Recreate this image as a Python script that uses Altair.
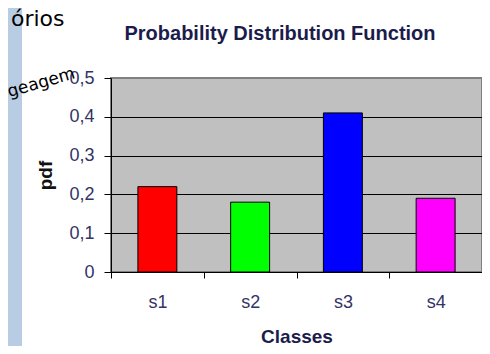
import altair as alt
import pandas as pd

classes = ["s1", "s2", "s3", "s4"]
pdf_values = [0.22, 0.18, 0.41, 0.19]
bar_colors = ["#FF0000", "#00FF00", "#0000FF", "#FF00FF"]
y_ticks = [0, 0.1, 0.2, 0.3, 0.4, 0.5]
y_tick_labels = ["0", "0,1", "0,2", "0,3", "0,4", "0,5"]
chart_title = ["Probability Distribution Function"]
slide_texts = ["órios", "geagem"]

df = pd.DataFrame({"Classes": classes, "pdf": pdf_values, "color": bar_colors})

label_expr = "".join(
    f"abs(datum.value - {v}) < 1e-6 ? '{l}' : " for v, l in zip(y_ticks, y_tick_labels)
) + "''"

navy = "#1c1c4c"
label_col = "#333366"

bars = alt.Chart(df).mark_bar(
    stroke="black", strokeWidth=1, width=alt.RelativeBandSize(0.42)
).encode(
    x=alt.X(
        "Classes:N",
        sort=classes,
        scale=alt.Scale(paddingInner=0, paddingOuter=0),
        axis=alt.Axis(
            labelAngle=0, tickBand="extent", tickSize=6, tickColor="black",
            domainColor="black", labelFontSize=18, labelFont="Liberation Sans",
            labelColor=label_col, labelBaseline="middle", labelPadding=24,
            title="Classes", titleFontSize=19, titleFontWeight="bold",
            titleFont="Liberation Sans", titleColor=navy, titleY=64,
            titleBaseline="middle", grid=False,
        ),
    ),
    y=alt.Y(
        "pdf:Q",
        scale=alt.Scale(domain=[0, 0.5]),
        axis=alt.Axis(
            values=y_ticks, labelExpr=label_expr, tickSize=7, tickColor="black",
            domainColor="black", labelPadding=10, labelFontSize=18,
            labelFont="Liberation Sans", labelColor=label_col,
            gridColor={"condition": {"test": "datum.value >= 0.5", "value": "#808080"}, "value": "black"},
            gridWidth=1,
            title="pdf", titleFontSize=19, titleFontWeight="bold",
            titleFont="Liberation Sans", titleColor="#111111",
            titleX=-66, titleY=97, titleBaseline="middle", titleAlign="center",
        ),
    ),
    color=alt.Color("color:N", scale=None),
)

one = pd.DataFrame({"k": [0]})

strip = alt.Chart(one).mark_rect(color="#b8cce4").encode(
    x=alt.value(-103), x2=alt.value(-89), y=alt.value(-70), y2=alt.value(270)
)

title = alt.Chart(pd.DataFrame({"t": chart_title})).mark_text(
    font="Liberation Sans", fontSize=20, fontWeight="bold", align="center",
    baseline="alphabetic", color=navy
).encode(text="t:N", x=alt.value(169), y=alt.value(-38))

t1 = alt.Chart(pd.DataFrame({"t": [slide_texts[0]]})).mark_text(
    font="DejaVu Sans", fontSize=22, align="left", baseline="alphabetic", color="black"
).encode(text="t:N", x=alt.value(-100), y=alt.value(-52))

t2 = alt.Chart(pd.DataFrame({"t": [slide_texts[1]]})).mark_text(
    font="DejaVu Sans", fontSize=17, align="right", baseline="alphabetic", color="black", angle=344
).encode(text="t:N", x=alt.value(-35), y=alt.value(0))

chart = alt.layer(strip, bars, title, t1, t2).properties(
    width=371,
    height=194,
    autosize=alt.AutoSizeParams(type="none"),
    padding={"left": 103, "top": 70, "right": 0, "bottom": 74},
    background="white",
).configure_view(fill="#C0C0C0", stroke="#808080", strokeWidth=2)

chart.save("out.html", embed_options={"renderer": "svg", "actions": False})
